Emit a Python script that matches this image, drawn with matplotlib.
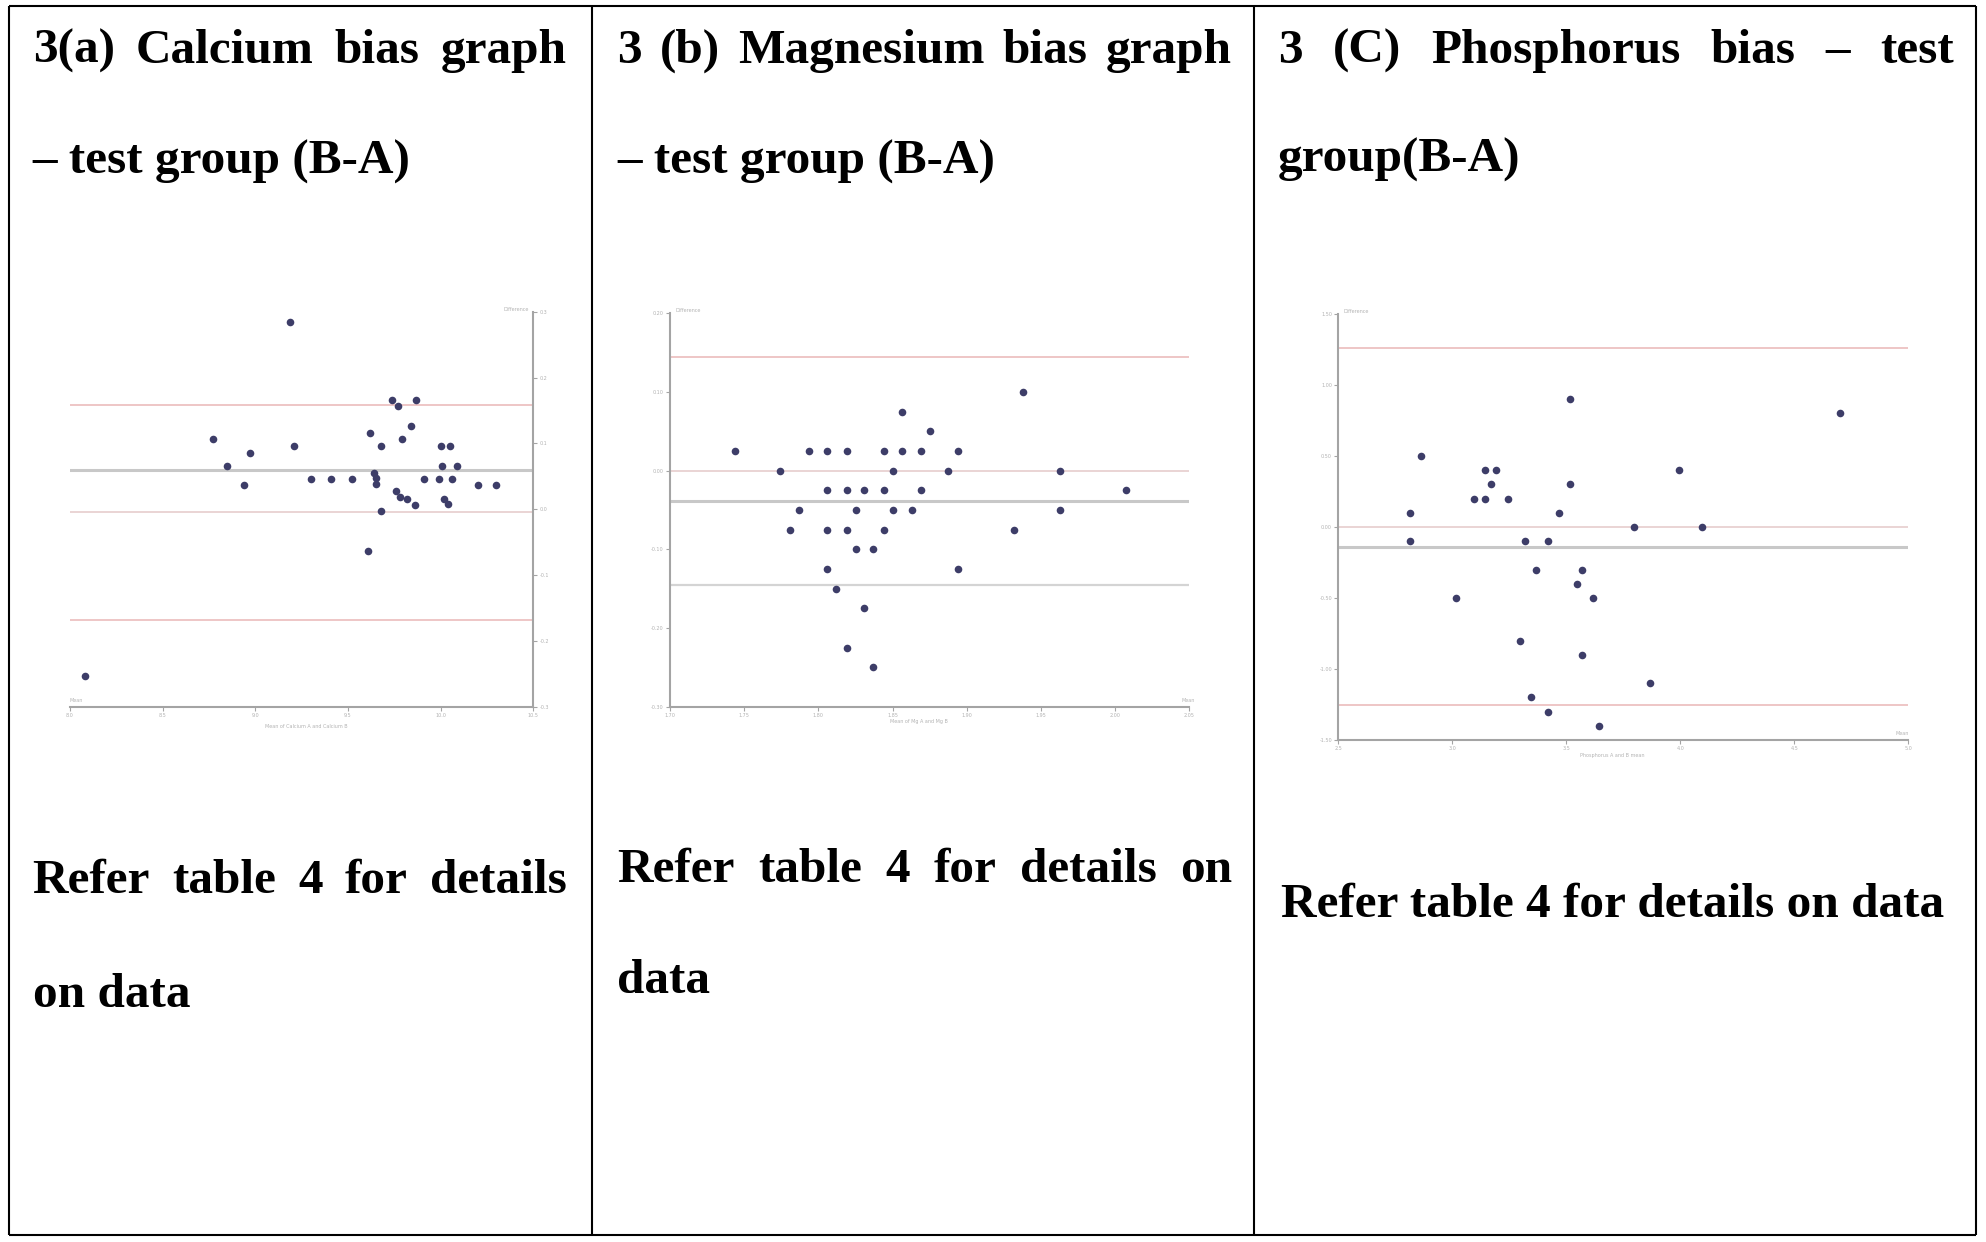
import matplotlib
matplotlib.use("Agg")
import matplotlib.pyplot as plt

plt.rcParams["font.family"] = ["Liberation Serif", "DejaVu Serif"]

W, H = 1986, 1242
FS = 35.5

# --- data ---
ca_mean = [9.19, 8.77, 8.85, 8.97, 8.94, 9.21, 9.30, 9.41, 9.52, 9.62, 9.68, 9.64, 9.65,
           9.65, 9.68, 9.61, 9.74, 9.77, 9.87, 9.84, 9.79, 9.76, 9.78, 9.82, 9.86, 9.91,
           9.99, 10.00, 10.05, 10.01, 10.09, 10.06, 10.02, 10.04, 10.20, 10.30, 8.08]
ca_diff = [0.285, 0.106, 0.066, 0.086, 0.037, 0.096, 0.046, 0.046, 0.046, 0.116, 0.096,
           0.055, 0.047, 0.038, -0.003, -0.063, 0.166, 0.157, 0.166, 0.126, 0.106, 0.027,
           0.018, 0.015, 0.007, 0.046, 0.046, 0.096, 0.096, 0.066, 0.066, 0.046, 0.016,
           0.008, 0.037, 0.037, -0.253]
ca_lines = [0.159, 0.059, -0.004, -0.168]

mg_mean = [1.744, 1.774, 1.781, 1.787, 1.794, 1.806, 1.819, 1.806, 1.819, 1.831, 1.844,
           1.825, 1.806, 1.819, 1.844, 1.825, 1.837, 1.806, 1.812, 1.831, 1.819, 1.837,
           1.844, 1.856, 1.869, 1.856, 1.875, 1.850, 1.850, 1.863, 1.869, 1.887, 1.894,
           1.894, 1.932, 1.938, 1.963, 1.963, 2.007]
mg_diff = [0.025, 0.0, -0.075, -0.05, 0.025, 0.025, 0.025, -0.025, -0.025, -0.025, -0.025,
           -0.05, -0.075, -0.075, -0.075, -0.1, -0.1, -0.125, -0.15, -0.175, -0.225, -0.25,
           0.025, 0.025, 0.025, 0.075, 0.05, 0.0, -0.05, -0.05, -0.025, 0.0, 0.025,
           -0.125, -0.075, 0.1, 0.0, -0.05, -0.025]
mg_lines = [0.145, 0.0, -0.038, -0.145]

p_mean = [2.865, 2.813, 2.813, 3.017, 3.094, 3.144, 3.144, 3.193, 3.168, 3.246, 3.318,
          3.420, 3.368, 3.295, 3.345, 3.420, 3.466, 3.516, 3.516, 3.545, 3.570, 3.618,
          3.570, 3.645, 3.797, 3.867, 3.994, 4.096, 4.698]
p_diff = [0.5, 0.1, -0.1, -0.5, 0.2, 0.2, 0.4, 0.4, 0.3, 0.2, -0.1, -0.1, -0.3, -0.8,
          -1.2, -1.3, 0.1, 0.9, 0.3, -0.4, -0.3, -0.5, -0.9, -1.4, 0.0, -1.1, 0.4, 0.0, 0.8]
p_lines = [1.26, 0.0, -0.14, -1.256]

ca_xticks = [8.0, 8.5, 9.0, 9.5, 10.0, 10.5]
ca_yticks = [-0.3, -0.2, -0.1, 0.0, 0.1, 0.2, 0.3]
mg_xticks = [1.70, 1.75, 1.80, 1.85, 1.90, 1.95, 2.00, 2.05]
mg_yticks = [-0.3, -0.2, -0.1, 0.0, 0.1, 0.2]
p_xticks = [2.5, 3.0, 3.5, 4.0, 4.5, 5.0]
p_yticks = [-1.5, -1.0, -0.5, 0.0, 0.5, 1.0, 1.5]

fig = plt.figure(figsize=(W / 100, H / 100), dpi=100)
fig.patch.set_facecolor("white")

bg = fig.add_axes([0, 0, 1, 1])
bg.set_xlim(0, W)
bg.set_ylim(H, 0)
bg.axis("off")

# table borders
lw_tab = 1.5
bg.hlines([6, 1235], 9, 1976, color="black", lw=lw_tab)
bg.vlines([9, 591.5, 1254, 1976], 6, 1235, color="black", lw=lw_tab)

renderer = fig.canvas.get_renderer()


def put_line(text, x0, x1, y, justify=True):
    if not justify:
        bg.text(x0, y, text, fontsize=FS, fontweight="bold", va="baseline", ha="left")
        return
    words = text.split(" ")
    texts = [bg.text(x0, y, w, fontsize=FS, fontweight="bold", va="baseline", ha="left")
             for w in words]
    widths = [t.get_window_extent(renderer).width for t in texts]
    gap = (x1 - x0 - sum(widths)) / (len(words) - 1)
    x = x0
    for t, w in zip(texts, widths):
        t.set_x(x)
        x += w + gap


put_line("3(a) Calcium bias graph", 32.6, 567, 63)
put_line("\u2013 test group (B-A)", 32.6, 567, 174, justify=False)
put_line("3 (b) Magnesium bias graph", 617, 1232, 63)
put_line("\u2013 test group (B-A)", 617, 1232, 174, justify=False)
put_line("3 (C) Phosphorus bias \u2013 test", 1278, 1954, 63)
put_line("group(B-A)", 1278, 1954, 172, justify=False)

put_line("Refer table 4 for details", 32.6, 567, 893)
put_line("on data", 32.6, 567, 1007, justify=False)
put_line("Refer table 4 for details on", 617, 1232, 882)
put_line("data", 617, 1232, 993, justify=False)
put_line("Refer table 4 for details on data", 1281, 1948, 917, justify=False)


def px_axes(x0, x1, y_top, y_bot):
    a = fig.add_axes([x0 / W, 1 - y_bot / H, (x1 - x0) / W, (y_bot - y_top) / H])
    a.set_facecolor("none")
    return a


PINK = "#eec6c6"
PINK2 = "#ead4d4"
GRAY = "#c8c8c8"
GRAY2 = "#d4d4d4"
DOT = "#3d3d68"
AXC = "#a4a4a4"
LBL = "#b3b3b3"


def style(ax, side, xticks, yticks, xfmt, yfmt):
    for s in ax.spines.values():
        s.set_visible(False)
    ax.spines["bottom"].set_visible(True)
    ax.spines[side].set_visible(True)
    for s in ("bottom", side):
        ax.spines[s].set_color(AXC)
        ax.spines[s].set_linewidth(1.5)
    ax.set_xticks(xticks)
    ax.set_yticks(yticks)
    ax.set_xticklabels([xfmt % v for v in xticks])
    ax.set_yticklabels([yfmt % v for v in yticks])
    if side == "right":
        ax.yaxis.tick_right()
    ax.tick_params(length=3, width=0.8, color=AXC, labelsize=3.5,
                   labelcolor=LBL, pad=1.5)
    for lab in ax.get_xticklabels() + ax.get_yticklabels():
        lab.set_family("DejaVu Sans")


def ba_lines(ax, levels, colors, widths):
    for lv, c, w in zip(levels, colors, widths):
        ax.axhline(lv, color=c, lw=w, zorder=1)


small = dict(fontsize=3.5, color=LBL, family="DejaVu Sans")

# panel (a) calcium
ax1 = px_axes(69.9, 533.2, 311.7, 706.7)
ax1.set_xlim(8.0, 10.5)
ax1.set_ylim(-0.3, 0.3)
style(ax1, "right", ca_xticks, ca_yticks, "%.1f", "%.1f")
ba_lines(ax1, ca_lines, [PINK, GRAY, PINK2, PINK], [1.4, 2.2, 1.4, 1.4])
ax1.scatter(ca_mean, ca_diff, s=30, color=DOT, linewidths=0, zorder=3)
ax1.text(0.99, 1.0, "Difference", transform=ax1.transAxes, ha="right", va="bottom", **small)
ax1.text(0.0, 0.01, "Mean", transform=ax1.transAxes, ha="left", va="bottom", **small)
ax1.text(0.51, -0.045, "Mean of Calcium A and Calcium B", transform=ax1.transAxes,
         ha="center", va="top", **small)

# panel (b) magnesium
ax2 = px_axes(670, 1189.4, 313.3, 706.7)
ax2.set_xlim(1.70, 2.05)
ax2.set_ylim(-0.3, 0.2)
style(ax2, "left", mg_xticks, mg_yticks, "%.2f", "%.2f")
ba_lines(ax2, mg_lines, [PINK, PINK2, GRAY, GRAY2], [1.4, 1.4, 2.2, 1.6])
ax2.scatter(mg_mean, mg_diff, s=30, color=DOT, linewidths=0, zorder=3)
ax2.text(0.01, 1.0, "Difference", transform=ax2.transAxes, ha="left", va="bottom", **small)
ax2.text(1.01, 0.01, "Mean", transform=ax2.transAxes, ha="right", va="bottom", **small)
ax2.text(0.48, -0.03, "Mean of Mg A and Mg B", transform=ax2.transAxes,
         ha="center", va="top", **small)

# panel (c) phosphorus
ax3 = px_axes(1338.2, 1908.4, 314, 740)
ax3.set_xlim(2.5, 5.0)
ax3.set_ylim(-1.5, 1.5)
style(ax3, "left", p_xticks, p_yticks, "%.1f", "%.2f")
ba_lines(ax3, p_lines, [PINK, PINK2, GRAY, PINK], [1.4, 1.4, 2.2, 1.4])
ax3.scatter(p_mean, p_diff, s=30, color=DOT, linewidths=0, zorder=3)
ax3.text(0.01, 1.0, "Difference", transform=ax3.transAxes, ha="left", va="bottom", **small)
ax3.text(1.0, 0.01, "Mean", transform=ax3.transAxes, ha="right", va="bottom", **small)
ax3.text(0.48, -0.03, "Phosphorus A and B mean", transform=ax3.transAxes,
         ha="center", va="top", **small)

fig.savefig("out.png", dpi=100, facecolor="white")
